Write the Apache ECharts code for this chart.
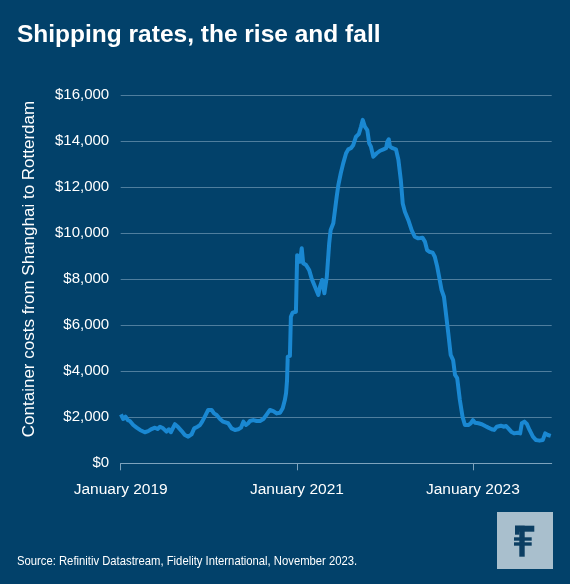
<!DOCTYPE html>
<html>
<head>
<meta charset="utf-8">
<script src="https://cdn.jsdelivr.net/npm/echarts@6/dist/echarts.min.js"></script>
<style>
html,body{margin:0;padding:0;background:#02416a;}
#c{width:570px;height:584px;}
</style>
</head>
<body>
<div id="c"></div>
<script>
const titleText = 'Shipping rates, the rise and fall';
const yAxisTitle = 'Container costs from Shanghai to Rotterdam';
const sourceText = 'Source: Refinitiv Datastream, Fidelity International, November 2023.';
const xTickDates = ['2019-01-01', '2021-01-01', '2023-01-01'];
const xTickLabels = ['January 2019', 'January 2021', 'January 2023'];
const yTicks = [0, 2000, 4000, 6000, 8000, 10000, 12000, 14000, 16000];

const dates = [
'2019-01-02','2019-01-11','2019-01-21','2019-01-30','2019-02-08','2019-02-22','2019-03-08','2019-03-22','2019-04-11','2019-04-25',
'2019-05-09','2019-05-23','2019-06-03','2019-06-13','2019-06-26','2019-07-10','2019-07-20','2019-07-28','2019-08-14','2019-08-28',
'2019-09-11','2019-09-24','2019-10-08','2019-10-22','2019-11-02','2019-11-16','2019-11-26','2019-12-05','2019-12-16','2019-12-30',
'2020-01-13','2020-01-23','2020-02-03','2020-02-17','2020-03-01','2020-03-22','2020-04-05','2020-04-19','2020-05-03','2020-05-14',
'2020-05-24','2020-06-04','2020-06-13','2020-06-20','2020-07-04','2020-07-18','2020-08-01','2020-08-15','2020-08-29','2020-09-11',
'2020-09-25','2020-10-09','2020-10-23','2020-11-03','2020-11-12','2020-11-17','2020-11-21','2020-11-24','2020-12-03','2020-12-07',
'2020-12-14','2020-12-28','2021-01-02','2021-01-07','2021-01-14','2021-01-21','2021-01-27','2021-02-08','2021-02-21','2021-03-03',
'2021-03-17','2021-03-31','2021-04-07','2021-04-16','2021-04-25','2021-05-05','2021-05-15','2021-05-21','2021-06-01','2021-06-08',
'2021-06-15','2021-06-22','2021-07-02','2021-07-12','2021-07-24','2021-08-02','2021-08-13','2021-08-23','2021-09-03','2021-09-15',
'2021-09-24','2021-10-01','2021-10-10','2021-10-20','2021-10-28','2021-11-04','2021-11-14','2021-11-28','2021-12-12','2021-12-26',
'2022-01-06','2022-01-11','2022-01-17','2022-01-22','2022-02-02','2022-02-16','2022-02-26','2022-03-08','2022-03-16','2022-03-25',
'2022-04-08','2022-04-22','2022-05-05','2022-05-19','2022-06-06','2022-06-16','2022-06-25','2022-07-04','2022-07-18','2022-07-27',
'2022-08-06','2022-08-14','2022-08-24','2022-09-03','2022-09-08','2022-09-21','2022-10-01','2022-10-11','2022-10-19','2022-10-28',
'2022-11-08','2022-11-19','2022-11-29','2022-12-13','2022-12-23','2023-01-01','2023-01-10','2023-01-24','2023-02-07','2023-02-21',
'2023-03-06','2023-03-20','2023-03-30','2023-04-10','2023-04-27','2023-05-08','2023-05-19','2023-05-28','2023-06-09','2023-06-21',
'2023-07-05','2023-07-16','2023-07-23','2023-08-03','2023-08-13','2023-08-24','2023-09-07','2023-09-20','2023-10-04','2023-10-18',
'2023-10-28','2023-11-08','2023-11-20'
];
const rates = [
2130,1925,2030,1880,1840,1665,1550,1450,1350,1400,
1490,1550,1490,1590,1520,1375,1480,1350,1700,1565,
1400,1230,1160,1260,1520,1590,1665,1810,2030,2320,
2320,2170,2100,1925,1810,1740,1520,1450,1480,1550,
1810,1665,1740,1840,1880,1840,1840,1925,2130,2320,
2270,2170,2200,2390,2750,3050,3600,4640,4670,6370,
6550,6590,9050,8980,8770,9350,8700,8620,8400,8040,
7680,7320,7680,7970,7390,8110,9570,10140,10440,10500,
11590,12100,12610,13040,13480,13650,13700,13840,14200,14320,
14640,14930,14640,14490,13910,13770,13330,13480,13590,13650,
13700,13980,14090,13770,13700,13650,13200,12320,11300,10940,
10580,10140,9850,9780,9810,9640,9270,9200,9160,8980,
8550,8110,7540,7240,6810,5650,4710,4490,3840,3700,
2750,2030,1665,1665,1740,1880,1765,1740,1700,1620,
1550,1480,1450,1590,1635,1590,1620,1520,1375,1300,
1330,1300,1740,1810,1710,1450,1160,1010,985,1010,
1300,1230,1190
];

const FONT = '"Liberation Sans", Arial, sans-serif';
const toTime = d => new Date(d + 'T00:00:00Z').getTime();
const tickTimes = xTickDates.map(toTime);
const seriesData = dates.map((d, i) => [toTime(d), rates[i]]);

const chart = echarts.init(document.getElementById('c'), null, {renderer: 'canvas'});
chart.setOption({
  backgroundColor: '#02416a',
  animation: false,
  grid: {left: 120.7, right: 18.3, top: 95.3, bottom: 120.7},
  xAxis: {
    type: 'value',
    min: toTime('2019-01-01'),
    max: toTime('2023-11-24'),
    splitLine: {show: false},
    axisLine: {show: true, lineStyle: {color: '#7ea3bd', width: 1}},
    axisTick: {show: true, customValues: tickTimes, length: 7, lineStyle: {color: '#7ea3bd'}},
    axisLabel: {
      show: true,
      customValues: tickTimes,
      color: '#ffffff',
      fontFamily: FONT,
      fontSize: 15.5,
      margin: 18,
      formatter: function (v) {
        const i = tickTimes.indexOf(v);
        return i >= 0 ? xTickLabels[i] : '';
      }
    }
  },
  yAxis: {
    type: 'value',
    min: yTicks[0],
    max: yTicks[yTicks.length - 1],
    interval: yTicks[1] - yTicks[0],
    axisLine: {show: false},
    axisTick: {show: false},
    splitLine: {lineStyle: {color: '#4f7e9e', width: 1}},
    axisLabel: {
      color: '#ffffff',
      fontFamily: FONT,
      fontSize: 15,
      margin: 11.5,
      formatter: function (v) { return '$' + v.toLocaleString('en-US'); }
    }
  },
  series: [{
    type: 'line',
    data: seriesData,
    showSymbol: false,
    symbol: 'none',
    lineStyle: {color: '#1a88d2', width: 4, join: 'round'},
    z: 3
  }],
  graphic: [
    {type: 'text', x: 17, y: 35, style: {text: titleText, fill: '#ffffff', font: 'bold 24.5px ' + FONT, align: 'left', verticalAlign: 'middle'}},
    {type: 'text', x: 29, y: 269, rotation: Math.PI / 2,
      style: {text: yAxisTitle, fill: '#ffffff', font: '17px ' + FONT, align: 'center', verticalAlign: 'middle'}},
    {type: 'text', x: 17, y: 561, scaleX: 0.835, style: {text: sourceText, fill: '#ffffff', font: '13.5px ' + FONT, align: 'left', verticalAlign: 'middle'}},
    {type: 'rect', shape: {x: 497, y: 512, width: 56, height: 57}, style: {fill: '#a9bfcd'}},
    {type: 'rect', shape: {x: 519.3, y: 525.7, width: 5.4, height: 31}, style: {fill: '#0c3e62'}},
    {type: 'rect', shape: {x: 515, y: 525.7, width: 19.3, height: 6}, style: {fill: '#0c3e62'}},
    {type: 'rect', shape: {x: 515, y: 525.7, width: 4.5, height: 9}, style: {fill: '#0c3e62'}},
    {type: 'rect', shape: {x: 514, y: 537.3, width: 17.7, height: 3.4}, style: {fill: '#0c3e62'}},
    {type: 'rect', shape: {x: 514, y: 542.3, width: 17.7, height: 3.4}, style: {fill: '#0c3e62'}}
  ]
});
</script>
</body>
</html>
